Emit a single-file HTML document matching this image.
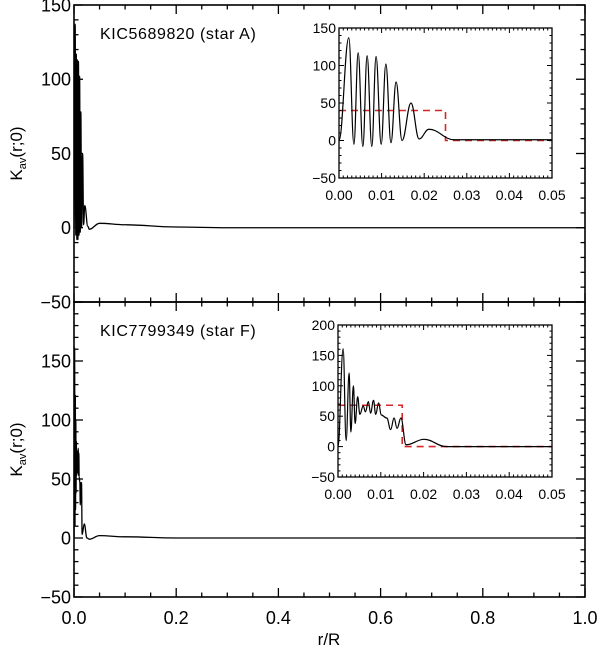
<!DOCTYPE html>
<html><head><meta charset="utf-8"><style>
html,body{margin:0;padding:0;background:#fff;}
svg{display:block;font-family:"Liberation Sans",sans-serif;}
</style></head><body>
<svg id="fig" width="600" height="651" viewBox="0 0 600 651" xmlns="http://www.w3.org/2000/svg"></svg>
<script>
// ---- data: star A (top) ----
const aX = [0, 0.0023, 0.0035, 0.0045, 0.0056, 0.0066, 0.0077, 0.0087, 0.0099, 0.011, 0.0122, 0.0134, 0.0148, 0.0169, 0.0188, 0.0211, 0.027, 0.035, 0.05];
const aY = [0, 137, -5, 117, -8, 113, -8, 112, -5, 102, -3, 78, 0, 50, 2, 15, 1, 1, 1];
const aTailX = [0.03, 0.05, 0.1, 0.2, 0.3, 0.5, 1.0];
const aTailY = [-1, 3, 2, 0.5, 0, 0, 0];
const aStepX = [0, 0.025, 0.025, 0.05];
const aStepY = [40, 40, 0, 0];
// ---- data: star F (bottom) ----
const fX = [0, 0.0012, 0.0019, 0.0026, 0.003, 0.0036, 0.004, 0.0046, 0.0051, 0.0059, 0.0064, 0.0071, 0.0076, 0.0083, 0.0088, 0.0095, 0.0101, 0.0114, 0.0123, 0.0131, 0.0138, 0.0147, 0.0159, 0.0201, 0.0253, 0.05];
const fY = [0, 161, 10, 121, 24, 100, 38, 82, 53, 67, 57, 74, 55, 76, 53, 72, 52, 47, 28, 47, 30, 47, 3, 12, 0, 0];
const fTailX = [0.03, 0.05, 0.1, 0.2, 0.4, 1.0];
const fTailY = [-1, 2, 1, 0, 0, 0];
const fStepX = [0, 0.015, 0.015, 0.05];
const fStepY = [68, 68, 0, 0];
// ---- tick labels ----
const mainXTicks = ["0.0","0.2","0.4","0.6","0.8","1.0"];
const insetXTicks = ["0.00","0.01","0.02","0.03","0.04","0.05"];
const topYTicks = [-50, 0, 50, 100, 150];
const botYTicks = [-50, 0, 50, 100, 150];
const insetATicks = [-50, 0, 50, 100, 150];
const insetFTicks = [-50, 0, 50, 100, 150, 200];

const NS = "http://www.w3.org/2000/svg";
const svg = document.getElementById('fig');
function mk(tag, attrs, parent, name) {
  const e = document.createElementNS(NS, tag);
  for (const k in attrs) e.setAttribute(k, attrs[k]);
  
  
  (parent || svg).appendChild(e);
  return e;
}
function axis(x0, x1, y0, y1, xmin, xmax, ymin, ymax) {
  return {
    sx: v => x0 + (v - xmin) / (xmax - xmin) * (x1 - x0),
    sy: v => y1 - (v - ymin) / (ymax - ymin) * (y1 - y0),
    x0, x1, y0, y1, xmin, xmax, ymin, ymax
  };
}
function smoothPath(ax, xs, ys) {
  let d = "M" + ax.sx(xs[0]).toFixed(2) + "," + ax.sy(ys[0]).toFixed(2);
  for (let i = 1; i < xs.length; i++) {
    const xa = ax.sx(xs[i-1]), ya = ax.sy(ys[i-1]);
    const xb = ax.sx(xs[i]), yb = ax.sy(ys[i]);
    const h = (xb - xa) * 0.4;
    d += " C" + (xa + h).toFixed(2) + "," + ya.toFixed(2) + " " + (xb - h).toFixed(2) + "," + yb.toFixed(2) + " " + xb.toFixed(2) + "," + yb.toFixed(2);
  }
  return d;
}
function polyPath(ax, xs, ys) {
  return xs.map((x, i) => (i ? "L" : "M") + ax.sx(x).toFixed(2) + "," + ax.sy(ys[i]).toFixed(2)).join(" ");
}
function frame(ax, g, opt, name) {
  mk('rect', {x: ax.x0, y: ax.y0, width: ax.x1 - ax.x0, height: ax.y1 - ax.y0, fill: 'none', stroke: '#000', 'stroke-width': opt.sw}, g, name + '-frame');
  for (let v = ax.xmin, i = 0; v <= ax.xmax + 1e-9; i++, v = ax.xmin + i * opt.xMinor) {
    const major = i % opt.xPer === 0;
    const L = major ? opt.maj : opt.min;
    const x = ax.sx(v);
    mk('line', {x1: x, x2: x, y1: ax.y1, y2: ax.y1 - L, stroke: '#000', 'stroke-width': opt.tw}, g, name + '-x-tick');
    mk('line', {x1: x, x2: x, y1: ax.y0, y2: ax.y0 + L, stroke: '#000', 'stroke-width': opt.tw}, g, name + '-x-tick-top');
  }
  for (let i = 0; ; i++) {
    const v = ax.ymin + i * opt.yMinor;
    if (v > ax.ymax + 1e-9) break;
    const major = Math.abs(v % opt.yMajor) < 1e-9;
    const L = major ? opt.maj : opt.min;
    const y = ax.sy(v);
    mk('line', {x1: ax.x0, x2: ax.x0 + L, y1: y, y2: y, stroke: '#000', 'stroke-width': opt.tw}, g, name + '-y-tick');
    mk('line', {x1: ax.x1, x2: ax.x1 - L, y1: y, y2: y, stroke: '#000', 'stroke-width': opt.tw}, g, name + '-y-tick-right');
  }
}
function yLabels(ax, ticks, fs, g, name) {
  ticks.forEach(v => {
    const t = mk('text', {x: ax.x0 - 3, y: ax.sy(v) + fs * 0.36, 'font-size': fs, 'text-anchor': 'end', fill: '#000'}, g, name + '-y-label');
    t.textContent = v < 0 ? "\u2212" + Math.abs(v) : String(v);
  });
}
function xLabels(ax, ticks, fs, yy, g, name) {
  ticks.forEach(s => {
    const t = mk('text', {x: ax.sx(parseFloat(s)), y: yy, 'font-size': fs, 'text-anchor': 'middle', fill: '#000'}, g, name + '-x-label');
    t.textContent = s;
  });
}
function panel(cfg) {
  const g = mk('g', {}, svg, cfg.name);
  const ax = axis(74, 585, cfg.y0, cfg.y1, 0, 1, cfg.ymin, cfg.ymax);
  const ins = axis(cfg.ix0, cfg.ix1, cfg.iy0, cfg.iy1, 0, 0.05, -50, cfg.iymax);
  const cut = cfg.tX[0];
  const mx = [], my = [];
  cfg.X.forEach((x, i) => { if (x < cut) { mx.push(x); my.push(cfg.Y[i]); } });
  mk('path', {d: smoothPath(ax, mx.concat(cfg.tX), my.concat(cfg.tY)), fill: 'none', stroke: '#000', 'stroke-width': 1.3}, g, cfg.name + '-kernel-line');
  frame(ax, g, {sw: 1.6, tw: 1.3, maj: 9, min: 4.5, xMinor: 0.05, xPer: 4, yMinor: 10, yMajor: 50}, cfg.name);
  yLabels(ax, cfg.yt, 18, g, cfg.name);
  const lab = mk('text', {x: 100, y: cfg.labY, 'font-size': 16, 'letter-spacing': '0.6', fill: '#000'}, g, cfg.name + '-star-label');
  lab.textContent = cfg.label;
  const yt = mk('text', {transform: 'translate(' + 22 + ',' + ((cfg.y0 + cfg.y1) / 2) + ') rotate(-90)', 'font-size': 17, 'text-anchor': 'middle', fill: '#000'}, g, cfg.name + '-y-axis-title');
  yt.innerHTML = 'K<tspan font-size="11" dy="4">av</tspan><tspan dy="-4">(r;0)</tspan>';
  const ig = mk('g', {}, g, cfg.name + '-inset');
  mk('rect', {x: ins.x0, y: ins.y0, width: ins.x1 - ins.x0, height: ins.y1 - ins.y0, fill: '#fff'}, ig, 'inset-background');
  mk('path', {d: polyPath(ins, cfg.sX, cfg.sY), fill: 'none', stroke: '#d62728', 'stroke-width': 1.6, 'stroke-dasharray': '7,5'}, ig, cfg.name + '-inset-step-line');
  mk('path', {d: smoothPath(ins, cfg.X, cfg.Y), fill: 'none', stroke: '#000', 'stroke-width': 1.2}, ig, cfg.name + '-inset-kernel-line');
  frame(ins, ig, {sw: 1.3, tw: 1, maj: 5, min: 2.5, xMinor: 0.001, xPer: 10, yMinor: 10, yMajor: 50}, cfg.name + '-inset');
  yLabels(ins, cfg.it, 14, ig, cfg.name + '-inset');
  xLabels(ins, insetXTicks, 14, ins.y1 + 22, ig, cfg.name + '-inset');
  return ax;
}
panel({name: 'top-panel', y0: 5, y1: 302, ymin: -50, ymax: 150, X: aX, Y: aY, tX: aTailX, tY: aTailY, sX: aStepX, sY: aStepY,
  yt: topYTicks, label: 'KIC5689820 (star A)', labY: 39, ix0: 339, ix1: 552, iy0: 28, iy1: 178, iymax: 150, it: insetATicks});
const bot = panel({name: 'bottom-panel', y0: 302, y1: 597, ymin: -50, ymax: 200, X: fX, Y: fY, tX: fTailX, tY: fTailY, sX: fStepX, sY: fStepY,
  yt: botYTicks, label: 'KIC7799349 (star F)', labY: 336, ix0: 338, ix1: 552, iy0: 325, iy1: 477, iymax: 200, it: insetFTicks});
xLabels(bot, mainXTicks, 18, 624, svg, 'main');
const xt = mk('text', {x: 329, y: 645, 'font-size': 17, 'text-anchor': 'middle', fill: '#000'}, svg, 'x-axis-title');
xt.textContent = 'r/R';
</script>
</body></html>
